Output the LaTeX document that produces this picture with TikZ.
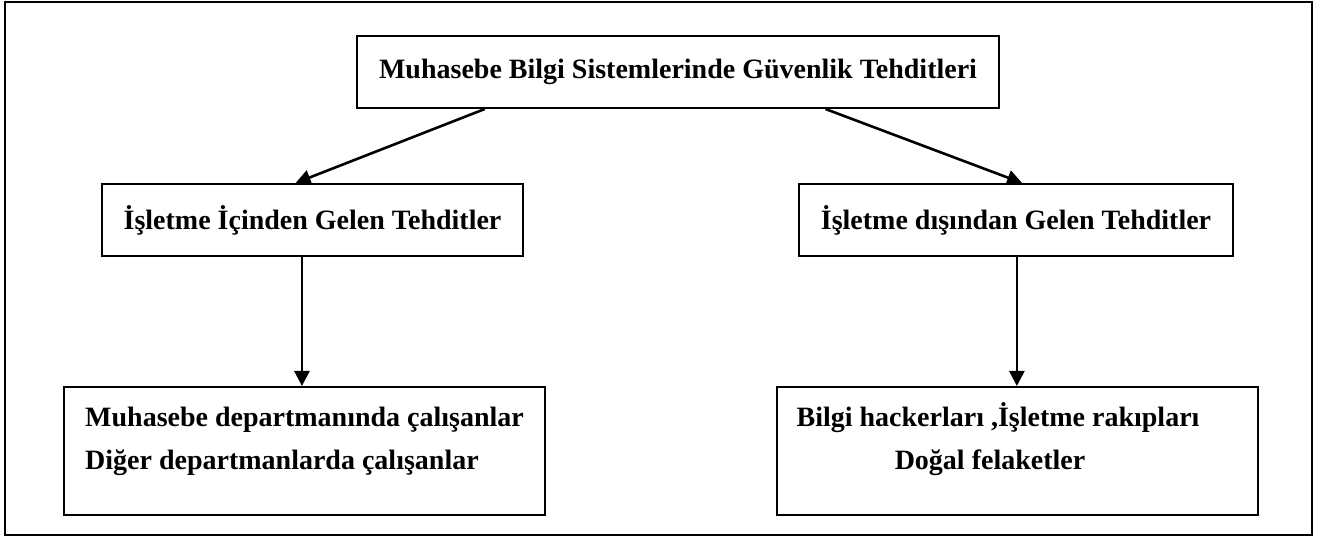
\documentclass[tikz,border=0pt]{standalone}
\usepackage{fontspec}
\setmainfont{Liberation Serif}
\usetikzlibrary{arrows.meta,calc}
\begin{document}
\begin{tikzpicture}[x=1pt,y=1pt,
  box/.style={draw, line width=2pt, inner sep=0pt},
  label/.style={font=\fontsize{28}{34}\selectfont\bfseries, inner sep=0pt},
  link/.style={line width=2.6pt, -{Triangle[length=15pt,width=15pt]}}]
  \useasboundingbox (0,0) rectangle (1325,538);
  % outer frame
  \draw[line width=2pt] (5,3) rectangle (1312,535.5);

  % boxes
  \node[box, minimum width=642pt, minimum height=72pt, label] (top) at (678,466)
    {Muhasebe Bilgi Sistemlerinde Güvenlik Tehditleri};
  \node[box, minimum width=421pt, minimum height=72pt, label] (lm) at (312.5,318)
    {İşletme İçinden Gelen Tehditler};
  \node[box, minimum width=434pt, minimum height=72pt, label] (rm) at (1016,318)
    {İşletme dışından Gelen Tehditler};
  \node[box, minimum width=481pt, minimum height=128pt] (lb) at (304.5,87) {};
  \node[box, minimum width=481pt, minimum height=128pt] (rb) at (1017.5,87) {};

  % texts of the lower boxes
  \node[label, anchor=base west] (lb1) at (85,111) {Muhasebe departmanında çalışanlar};
  \node[label, anchor=base west] (lb2) at (85,68) {Diğer departmanlarda çalışanlar};
  \node[label, anchor=base] (rb1) at (998,111) {Bilgi hackerları ,İşletme rakıpları};
  \node[label, anchor=base] (rb2) at (990,68) {Doğal felaketler};

  % connectors
  \draw[link] ($(top.south west)!0.2!(top.south east)$) -- ($(lm.north west)!0.46!(lm.north east)$);
  \draw[link] ($(top.south west)!0.729!(top.south east)$) -- ($(rm.north west)!0.514!(rm.north east)$);
  \coordinate (ls) at ($(lm.south west)!0.475!(lm.south east)$);
  \draw[link] (ls) -- (ls |- lb.north);
  \coordinate (rs) at ($(rm.south west)!0.502!(rm.south east)$);
  \draw[link] (rs) -- (rs |- rb.north);
\end{tikzpicture}
\end{document}
